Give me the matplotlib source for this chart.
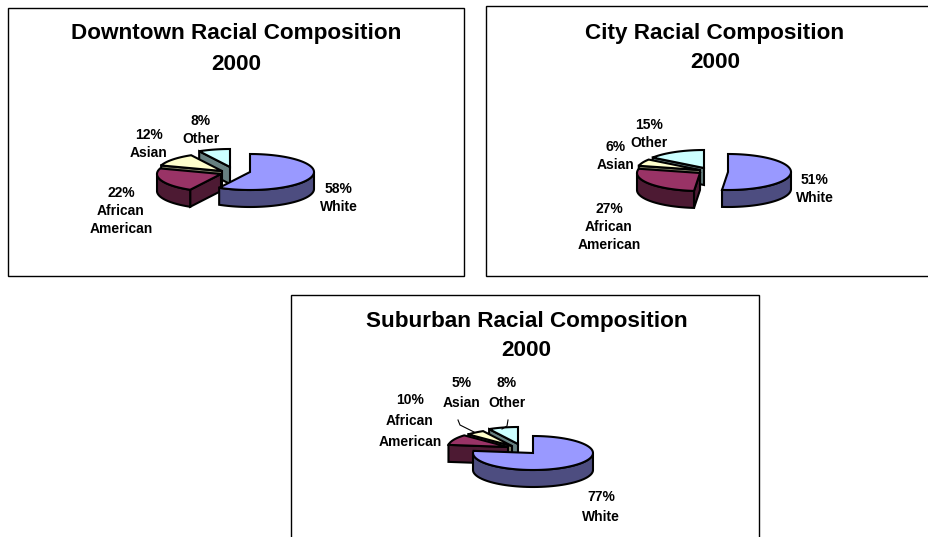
#3D PIE CHARTS OF RACIAL COMPOSITION
from matplotlib import pyplot as plt
from matplotlib.patches import Polygon, Rectangle
import numpy as np

plt.rcParams['font.family'] = ['Liberation Sans', 'DejaVu Sans']

titles = ['Downtown Racial Composition', 'City Racial Composition', 'Suburban Racial Composition']
categories = ['White', 'African\nAmerican', 'Asian', 'Other']
downtown = [58, 22, 12, 8]
city = [51, 27, 6, 15]
suburban = [77, 10, 5, 8]

top_colors = ['#9999FF', '#993366', '#FFFFCC', '#CCFFFF']
side_colors = ['#4D4D80', '#4D1A33', '#808066', '#668080']

# layout in pixels, one exploded centre per slice
frames = [(8, 8, 456, 268), (486, 6, 460, 270), (291, 295, 468, 260)]
title_x = [236.5, 715, 526.5]
title_y = [(33.5, 64.5), (33, 63), (321, 351)]
centers = [
    [(250, 172), (221, 174), (222, 171), (230, 167)],
    [(728, 172), (700, 173), (700, 170), (704, 168)],
    [(533, 453), (508, 447), (512, 446), (518, 444)],
]
radii = [(64, 18), (63, 18), (60, 17)]
depth = 17
label_pos = [
    [(339, 198), (121, 211), (149, 144), (201, 130)],
    [(815, 189), (609, 227), (616, 156), (649, 134)],
    [(601, 507), (410, 421), (462, 393), (507, 393)],
]
label_spacing = [1.35, 1.35, 1.6]
leaders = [[(458, 420), (460, 425), (474, 432)], [(508, 420), (507, 426), (502, 429)]]

fig = plt.figure(figsize=(9.29, 5.37), dpi=100)
ax = fig.add_axes([0, 0, 1, 1])
ax.set_xlim(0, 929)
ax.set_ylim(537, 0)
ax.axis('off')


def arc(c, r, a, b):
    t = np.radians(np.linspace(a, b, 80))
    return np.column_stack([c[0] + r[0] * np.sin(t), c[1] - r[1] * np.cos(t)])


def draw_slice(c, r, a, b, top, side, z):
    pts = arc(c, r, a, b)
    lw = 1.5
    # bottom and the cut faces that look towards us
    low = (c[0], c[1] + depth)
    for ang, off in ((a, -90), (b, 90)):
        if np.cos(np.radians(ang + off)) < 0:
            p = arc(c, r, ang, ang)[0]
            quad = [c, p, (p[0], p[1] + depth), low]
            ax.add_patch(Polygon(quad, closed=True, fc=side, ec='black', lw=lw, zorder=z))
    # outer wall, front part only
    t = np.linspace(a, b, 80)
    front = (np.cos(np.radians(t)) <= 0.02)
    if front.any():
        w = pts[front]
        wall = np.vstack([w, (w + [0, depth])[::-1]])
        ax.add_patch(Polygon(wall, closed=True, fc=side, ec='black', lw=lw, zorder=z))
    ax.add_patch(Polygon(np.vstack([[c], pts]), closed=True, fc=top, ec='black', lw=lw, zorder=z + 0.5))


charts = [downtown, city, suburban]
for n, values in enumerate(charts):
    x, y, w, h = frames[n]
    ax.add_patch(Rectangle((x, y), w, h, fc='white', ec='black', lw=1, zorder=1))
    ax.text(title_x[n], title_y[n][0], titles[n], fontsize=16.2, fontweight='bold', ha='center', va='center', zorder=10)
    ax.text(title_x[n], title_y[n][1], '2000', fontsize=16.2, fontweight='bold', ha='center', va='center', zorder=10)

    ends = np.cumsum(values) / np.sum(values) * 360
    starts = np.concatenate([[0], ends[:-1]])
    # back slices first
    for i in [3, 2, 1, 0]:
        draw_slice(centers[n][i], radii[n], starts[i], ends[i], top_colors[i], side_colors[i], 2 + (3 - i))
    for i, cat in enumerate(categories):
        lx, ly = label_pos[n][i]
        ax.text(lx, ly, f'{values[i]}%\n{cat}', fontsize=10, fontweight='bold', ha='center', va='center',
                linespacing=label_spacing[n], zorder=10)

for line in leaders:
    pts = np.array(line)
    ax.plot(pts[:, 0], pts[:, 1], color='black', lw=0.8, zorder=9)

fig.savefig('out.png', dpi=100)
